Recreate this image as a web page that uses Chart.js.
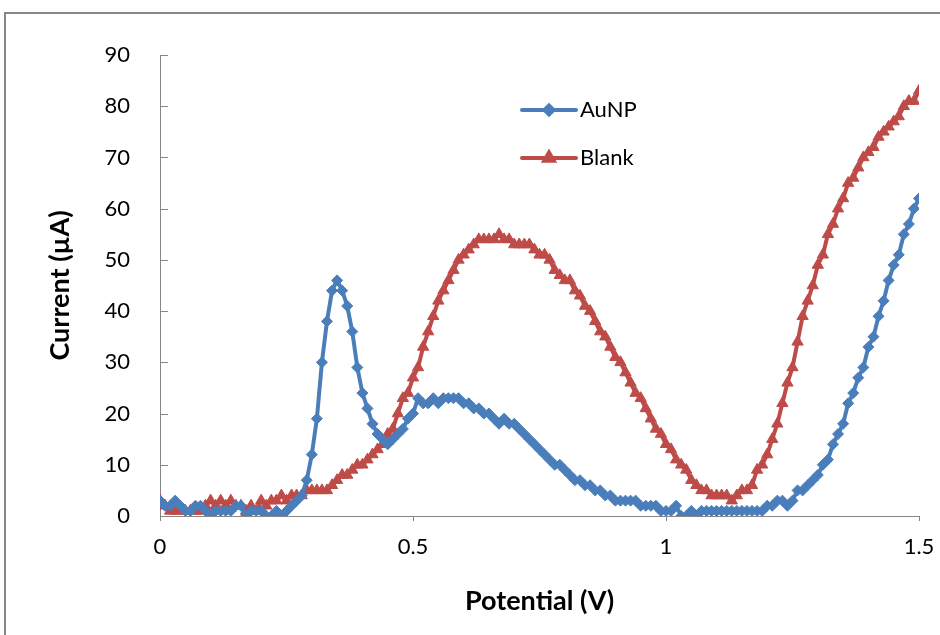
<!DOCTYPE html>
<html>
<head>
<meta charset="utf-8">
<script src="https://cdn.jsdelivr.net/npm/chart.js@4.4.0/dist/chart.umd.min.js"></script>
<style>
  body { margin: 0; background: #ffffff; }
</style>
</head>
<body>
<canvas id="grafico" width="940" height="635"></canvas>
<script>
// Datos (potencial en V, corriente en uA)
const potencial = [
  0, 0.01, 0.02, 0.03, 0.04, 0.05, 0.06, 0.07, 0.08, 0.09,
  0.1, 0.11, 0.12, 0.13, 0.14, 0.15, 0.16, 0.17, 0.18, 0.19,
  0.2, 0.21, 0.22, 0.23, 0.24, 0.25, 0.26, 0.27, 0.28, 0.29,
  0.3, 0.31, 0.32, 0.33, 0.34, 0.35, 0.36, 0.37, 0.38, 0.39,
  0.4, 0.41, 0.42, 0.43, 0.44, 0.45, 0.46, 0.47, 0.48, 0.49,
  0.5, 0.51, 0.52, 0.53, 0.54, 0.55, 0.56, 0.57, 0.58, 0.59,
  0.6, 0.61, 0.62, 0.63, 0.64, 0.65, 0.66, 0.67, 0.68, 0.69,
  0.7, 0.71, 0.72, 0.73, 0.74, 0.75, 0.76, 0.77, 0.78, 0.79,
  0.8, 0.81, 0.82, 0.83, 0.84, 0.85, 0.86, 0.87, 0.88, 0.89,
  0.9, 0.91, 0.92, 0.93, 0.94, 0.95, 0.96, 0.97, 0.98, 0.99,
  1, 1.01, 1.02, 1.03, 1.04, 1.05, 1.06, 1.07, 1.08, 1.09,
  1.1, 1.11, 1.12, 1.13, 1.14, 1.15, 1.16, 1.17, 1.18, 1.19,
  1.2, 1.21, 1.22, 1.23, 1.24, 1.25, 1.26, 1.27, 1.28, 1.29,
  1.3, 1.31, 1.32, 1.33, 1.34, 1.35, 1.36, 1.37, 1.38, 1.39,
  1.4, 1.41, 1.42, 1.43, 1.44, 1.45, 1.46, 1.47, 1.48, 1.49,
  1.5
];

const aunp = [
  3, 2, 2, 3, 2, 1, 1, 2, 2, 1,
  0, 1, 1, 1, 1, 2, 2, 0, 1, 1,
  1, 0, 0, 1, 0, 1, 2, 3, 4, 7,
  12, 19, 30, 38, 44, 46, 44, 41, 36, 29,
  24, 21, 18, 16, 15, 14, 15, 16, 17, 19,
  20, 23, 22, 22, 23, 22, 23, 23, 23, 23,
  22, 22, 21, 21, 20, 20, 19, 18, 19, 18,
  18, 17, 16, 15, 14, 13, 12, 11, 10, 10,
  9, 8, 7, 7, 6, 6, 5, 5, 4, 4,
  3, 3, 3, 3, 3, 2, 2, 2, 2, 1,
  1, 1, 2, 0, 0, 1, 0, 1, 1, 1,
  1, 1, 1, 1, 1, 1, 1, 1, 1, 1,
  2, 2, 3, 3, 2, 3, 5, 5, 6, 7,
  8, 10, 11, 14, 16, 18, 22, 24, 27, 29,
  33, 35, 39, 42, 46, 49, 51, 55, 57, 60,
  62
];

const blanco = [
  3, 2, 1, 1, 1, 1, 1, 1, 1, 2,
  3, 2, 3, 2, 3, 2, 2, 1, 2, 1,
  3, 2, 3, 3, 4, 3, 4, 4, 4, 5,
  5, 5, 5, 5, 6, 7, 8, 8, 9, 10,
  10, 11, 12, 13, 14, 16, 17, 20, 23, 24,
  27, 29, 33, 36, 39, 42, 44, 46, 48, 50,
  51, 52, 53, 54, 54, 54, 54, 55, 54, 54,
  53, 53, 53, 53, 52, 51, 51, 50, 48, 47,
  46, 46, 44, 43, 41, 40, 38, 36, 35, 33,
  31, 30, 28, 26, 24, 23, 21, 19, 17, 16,
  14, 13, 11, 10, 9, 7, 6, 5, 5, 4,
  4, 4, 4, 3, 4, 5, 5, 6, 9, 10,
  12, 15, 18, 22, 26, 29, 34, 39, 42, 45,
  49, 51, 55, 57, 60, 62, 65, 66, 68, 70,
  71, 72, 74, 75, 76, 77, 78, 80, 81, 81,
  83
];

const series = ["AuNP", "Blank"];
const ticksX = [0, 0.5, 1, 1.5];
const ticksY = [0, 10, 20, 30, 40, 50, 60, 70, 80, 90];

const azul = "#4a7ebb";
const rojo = "#be4b48";
const gris = "#868686";
const fuente = "Lato, 'Open Sans', sans-serif";

// Armar los puntos x,y de cada serie
const puntos = (valores) => potencial.map((v, i) => ({ x: v, y: valores[i] }));

// Plugin: marco exterior, marcas del eje Y hacia dentro y leyenda dentro del area
const extras = {
  id: "extras",
  afterDraw(chart) {
    const ctx = chart.ctx;
    const area = chart.chartArea;
    const ejeY = chart.scales.y;
    ctx.save();

    ctx.strokeStyle = gris;
    ctx.lineWidth = 2;
    ctx.strokeRect(5, 13, 1000, 1000);

    ctx.lineWidth = 1;
    ticksY.forEach((v) => {
      const py = Math.round(ejeY.getPixelForValue(v)) + 0.5;
      ctx.beginPath();
      ctx.moveTo(area.left, py);
      ctx.lineTo(area.left + 8, py);
      ctx.stroke();
    });

    // Leyenda
    const filas = [110, 158];
    chart.data.datasets.forEach((ds, i) => {
      const y = filas[i];
      ctx.strokeStyle = ds.borderColor;
      ctx.fillStyle = ds.backgroundColor;
      ctx.lineWidth = 4;
      ctx.lineCap = "round";
      ctx.beginPath();
      ctx.moveTo(522, y);
      ctx.lineTo(576, y);
      ctx.stroke();
      Chart.helpers.drawPoint(ctx, {
        pointStyle: ds.pointStyle,
        radius: ds.pointRadius - 1,
        borderWidth: 1
      }, 549, y);
      ctx.fillStyle = "#000000";
      ctx.font = "22px " + fuente;
      ctx.textBaseline = "middle";
      ctx.textAlign = "left";
      ctx.fillText(ds.label, 580, y);
    });
    ctx.restore();
  }
};

new Chart(document.getElementById("grafico"), {
  type: "line",
  data: {
    datasets: [
      {
        label: series[0],
        data: puntos(aunp),
        borderColor: azul,
        backgroundColor: azul,
        borderWidth: 4,
        pointStyle: "rectRot",
        pointRadius: 5.5,
        pointBorderWidth: 1,
        tension: 0
      },
      {
        label: series[1],
        data: puntos(blanco),
        borderColor: rojo,
        backgroundColor: rojo,
        borderWidth: 4,
        pointStyle: "triangle",
        pointRadius: 6.5,
        pointBorderWidth: 1,
        tension: 0
      }
    ]
  },
  options: {
    responsive: false,
    animation: false,
    devicePixelRatio: 1,
    layout: { padding: { top: 55, right: 21, left: 0, bottom: 0 } },
    plugins: {
      legend: { display: false },
      tooltip: { enabled: false }
    },
    scales: {
      x: {
        type: "linear",
        min: 0,
        max: 1.5,
        afterFit: (s) => { s.height = 119; s.paddingLeft = 0; s.paddingRight = 0; },
        afterBuildTicks: (s) => { s.ticks = ticksX.map((v) => ({ value: v })); },
        grid: { display: true, drawOnChartArea: false, drawTicks: true, tickLength: 5, color: gris },
        border: { display: true, color: gris, width: 1 },
        ticks: {
          color: "#000",
          padding: 13,
          maxRotation: 0,
          font: { family: fuente, size: 22 },
          callback: (v) => String(v)
        },
        title: {
          display: true,
          text: "Potential (V)",
          color: "#000",
          font: { family: fuente, size: 27, weight: "bold" },
          padding: { top: 0, bottom: 18 }
        }
      },
      y: {
        type: "linear",
        min: 0,
        max: 90,
        afterFit: (s) => { s.width = 160; s.paddingTop = 0; s.paddingBottom = 0; },
        afterBuildTicks: (s) => { s.ticks = ticksY.map((v) => ({ value: v })); },
        grid: { display: false },
        border: { display: true, color: gris, width: 1 },
        ticks: {
          color: "#000",
          padding: 22,
          font: { family: fuente, size: 22 },
          callback: (v) => String(v)
        },
        title: {
          display: true,
          text: "Current (µA)",
          color: "#000",
          font: { family: fuente, size: 27, weight: "bold" },
          padding: { top: 44, bottom: 0 }
        }
      }
    }
  },
  plugins: [extras]
});
</script>
</body>
</html>
